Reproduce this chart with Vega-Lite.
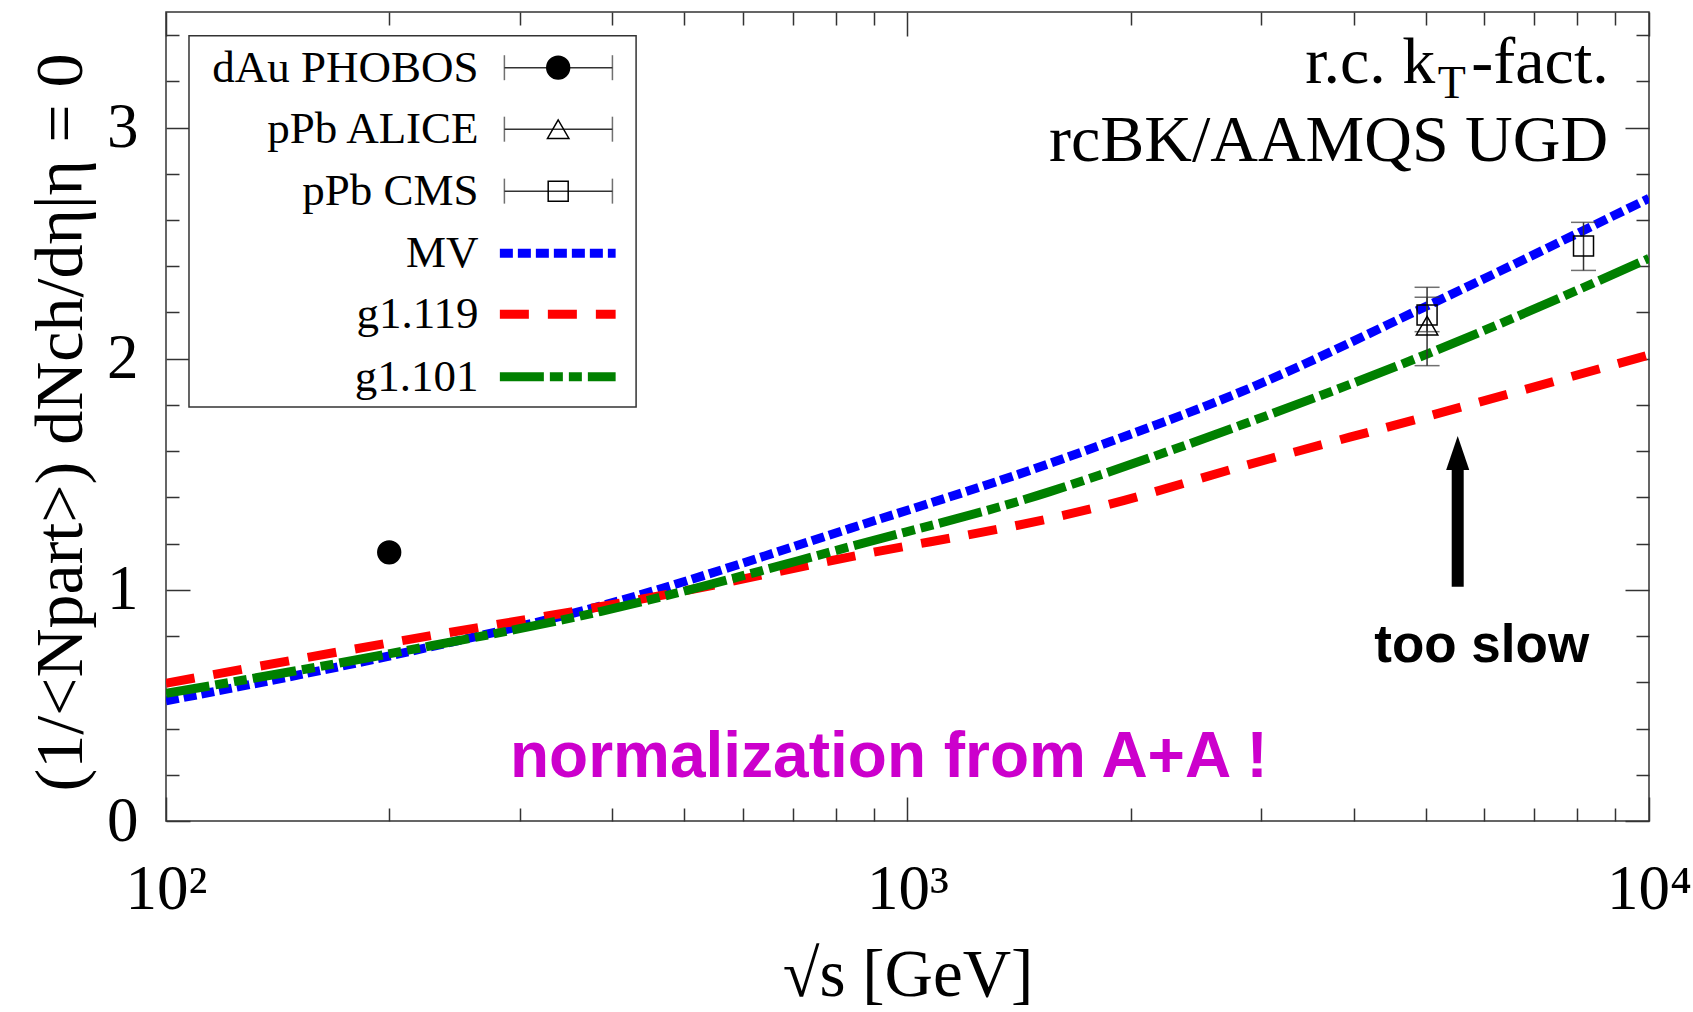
{
  "$schema": "https://vega.github.io/schema/vega-lite/v6.json",
  "width": 1483,
  "height": 809,
  "autosize": {"type": "none"},
  "padding": {"left": 166, "top": 12, "right": 44, "bottom": 191},
  "background": "white",
  "config": {"view": {"stroke": "#333333", "strokeWidth": 1.5}, "font": "Liberation Serif"},
  "datasets": {
    "curves": [
      {"series": "MV", "x": 100, "y": 0.52},
      {"series": "MV", "x": 213, "y": 0.733},
      {"series": "MV", "x": 385, "y": 0.93},
      {"series": "MV", "x": 837, "y": 1.266},
      {"series": "MV", "x": 1556, "y": 1.547},
      {"series": "MV", "x": 1818, "y": 1.625},
      {"series": "MV", "x": 2818, "y": 1.857},
      {"series": "MV", "x": 5108, "y": 2.24},
      {"series": "MV", "x": 10000, "y": 2.694},
      {"series": "g1.119", "x": 100, "y": 0.596},
      {"series": "g1.119", "x": 213, "y": 0.786},
      {"series": "g1.119", "x": 385, "y": 0.927},
      {"series": "g1.119", "x": 464, "y": 0.975},
      {"series": "g1.119", "x": 837, "y": 1.143},
      {"series": "g1.119", "x": 1632, "y": 1.324},
      {"series": "g1.119", "x": 1818, "y": 1.36},
      {"series": "g1.119", "x": 2818, "y": 1.533},
      {"series": "g1.119", "x": 5108, "y": 1.757},
      {"series": "g1.119", "x": 10000, "y": 2.016},
      {"series": "g1.101", "x": 100, "y": 0.552},
      {"series": "g1.101", "x": 213, "y": 0.74},
      {"series": "g1.101", "x": 385, "y": 0.906},
      {"series": "g1.101", "x": 837, "y": 1.187},
      {"series": "g1.101", "x": 1556, "y": 1.425},
      {"series": "g1.101", "x": 1818, "y": 1.497},
      {"series": "g1.101", "x": 2818, "y": 1.713},
      {"series": "g1.101", "x": 5108, "y": 2.03},
      {"series": "g1.101", "x": 10000, "y": 2.434}
    ],
    "points": [
      {"series": "dAu PHOBOS", "x": 200, "y": 1.1625},
      {"series": "pPb ALICE", "x": 5020, "y": 2.143, "lo": 1.97, "hi": 2.309},
      {"series": "pPb CMS", "x": 5020, "y": 2.189, "lo": 2.117, "hi": 2.266},
      {"series": "pPb CMS", "x": 8160, "y": 2.488, "lo": 2.382, "hi": 2.59}
    ],
    "legend": [
      {"series": "dAu PHOBOS", "kind": "data", "ly": 3.259},
      {"series": "pPb ALICE", "kind": "data", "ly": 2.993},
      {"series": "pPb CMS", "kind": "data", "ly": 2.725},
      {"series": "MV", "kind": "model", "ly": 2.456},
      {"series": "g1.119", "kind": "model", "ly": 2.192},
      {"series": "g1.101", "kind": "model", "ly": 1.922}
    ],
    "box": [{"x1": 107.4, "x2": 430.5, "y1": 1.791, "y2": 3.397}]
  },
  "layer": [
    {
      "data": {"name": "curves"},
      "mark": {"type": "line", "strokeWidth": 9, "strokeCap": "butt", "interpolate": "monotone", "clip": true},
      "encoding": {
        "x": {"field": "x", "type": "quantitative", "scale": {"type": "log", "domain": [100, 10000], "nice": false},
          "axis": {"orient": "bottom", "values": [100, 1000, 10000], "tickSize": -24, "labelExpr": "datum.value == 100 ? '10²' : datum.value == 1000 ? '10³' : '10⁴'", "labelFont": "Liberation Serif", "labelFontSize": 63, "labelColor": "#000000", "labelPadding": 111, "labelBaseline": "alphabetic", "labelFlush": false, "labelOverlap": false, "labelBound": false, "title": "√s [GeV]", "titleFont": "Liberation Serif", "titleFontSize": 67, "titleFontWeight": "normal", "titleColor": "#000000", "titleBaseline": "alphabetic", "titleAlign": "center", "titleX": 741.5, "titleY": 174, "domain": false, "grid": false, "tickColor": "#333333", "tickWidth": 1.5}},
        "y": {"field": "y", "type": "quantitative", "scale": {"domain": [0, 3.5], "nice": false, "zero": false},
          "axis": {"orient": "left", "values": [0, 1, 2, 3], "format": "d", "tickSize": -24, "labelFont": "Liberation Serif", "labelFontSize": 63, "labelColor": "#000000", "labelPadding": 52, "labelFlush": false, "labelOverlap": false, "labelBound": false, "title": "(1/<Npart>) dNch/dη|η = 0", "titleFont": "Liberation Serif", "titleFontSize": 68, "titleFontWeight": "normal", "titleColor": "#000000", "titleAngle": 270, "titleBaseline": "alphabetic", "titleAlign": "center", "titleX": -85, "titleY": 410, "domain": false, "grid": false, "tickColor": "#333333", "tickWidth": 1.5}},
        "color": {"field": "series", "type": "nominal", "scale": {"domain": ["MV", "g1.119", "g1.101"], "range": ["#0000ff", "#ff0000", "#008000"]}, "legend": null},
        "strokeDash": {"field": "series", "type": "nominal", "scale": {"domain": ["MV", "g1.119", "g1.101"], "range": [[13, 5], [29, 19], [44, 6, 13, 6, 13, 6]]}, "legend": null}
      }
    },
    {
      "data": {"name": "points"},
      "transform": [{"filter": "isValid(datum.lo)"}],
      "mark": {"type": "rule", "color": "#333333", "strokeWidth": 1.5},
      "encoding": {
        "x": {"field": "x", "type": "quantitative", "scale": {"type": "log", "domain": [100, 10000], "nice": false},
          "axis": {"orient": "bottom", "values": [200, 300, 400, 500, 600, 700, 800, 900, 2000, 3000, 4000, 5000, 6000, 7000, 8000, 9000], "tickSize": -13, "labels": false, "title": null, "domain": false, "grid": false, "tickColor": "#333333", "tickWidth": 1.5}},
        "y": {"field": "lo", "type": "quantitative", "scale": {"domain": [0, 3.5], "nice": false, "zero": false},
          "axis": {"orient": "left", "values": [0.2, 0.4, 0.6, 0.8, 1.2, 1.4, 1.6, 1.8, 2.2, 2.4, 2.6, 2.8, 3.2, 3.4], "tickSize": -13, "labels": false, "title": null, "domain": false, "grid": false, "tickColor": "#333333", "tickWidth": 1.5}},
        "y2": {"field": "hi"}
      }
    },
    {
      "data": {"name": "points"},
      "transform": [{"filter": "isValid(datum.lo)"}],
      "mark": {"type": "tick", "orient": "horizontal", "size": 25, "thickness": 1.5, "color": "#333333"},
      "encoding": {
        "x": {"field": "x", "type": "quantitative", "scale": {"type": "log", "domain": [100, 10000], "nice": false},
          "axis": {"orient": "top", "values": [100, 1000, 10000], "tickSize": -24, "labels": false, "title": null, "domain": false, "grid": false, "tickColor": "#333333", "tickWidth": 1.5}},
        "y": {"field": "lo", "type": "quantitative", "scale": {"domain": [0, 3.5], "nice": false, "zero": false},
          "axis": {"orient": "right", "values": [0, 1, 2, 3], "tickSize": -24, "labels": false, "title": null, "domain": false, "grid": false, "tickColor": "#333333", "tickWidth": 1.5}}
      }
    },
    {
      "data": {"name": "points"},
      "transform": [{"filter": "isValid(datum.hi)"}],
      "mark": {"type": "tick", "orient": "horizontal", "size": 25, "thickness": 1.5, "color": "#333333"},
      "encoding": {
        "x": {"field": "x", "type": "quantitative", "scale": {"type": "log", "domain": [100, 10000], "nice": false},
          "axis": {"orient": "top", "values": [200, 300, 400, 500, 600, 700, 800, 900, 2000, 3000, 4000, 5000, 6000, 7000, 8000, 9000], "tickSize": -13, "labels": false, "title": null, "domain": false, "grid": false, "tickColor": "#333333", "tickWidth": 1.5}},
        "y": {"field": "hi", "type": "quantitative", "scale": {"domain": [0, 3.5], "nice": false, "zero": false},
          "axis": {"orient": "right", "values": [0.2, 0.4, 0.6, 0.8, 1.2, 1.4, 1.6, 1.8, 2.2, 2.4, 2.6, 2.8, 3.2, 3.4], "tickSize": -13, "labels": false, "title": null, "domain": false, "grid": false, "tickColor": "#333333", "tickWidth": 1.5}}
      }
    },
    {
      "data": {"name": "points"},
      "mark": {"type": "point", "stroke": "#000000", "strokeWidth": 1.5, "opacity": 1},
      "encoding": {
        "x": {"field": "x", "type": "quantitative", "axis": null},
        "y": {"field": "y", "type": "quantitative", "axis": null},
        "shape": {"field": "series", "type": "nominal", "scale": {"domain": ["dAu PHOBOS", "pPb ALICE", "pPb CMS"], "range": ["circle", "triangle-up", "square"]}, "legend": null},
        "fill": {"field": "series", "type": "nominal", "scale": {"domain": ["dAu PHOBOS", "pPb ALICE", "pPb CMS"], "range": ["#000000", "transparent", "transparent"]}, "legend": null},
        "size": {"field": "series", "type": "nominal", "scale": {"domain": ["dAu PHOBOS", "pPb ALICE", "pPb CMS"], "range": [520, 400, 320]}, "legend": null}
      }
    },
    {
      "data": {"name": "box"},
      "mark": {"type": "rect", "fill": "white", "stroke": "#333333", "strokeWidth": 1.5},
      "encoding": {
        "x": {"field": "x1", "type": "quantitative", "axis": null},
        "x2": {"field": "x2"},
        "y": {"field": "y1", "type": "quantitative", "axis": null},
        "y2": {"field": "y2"}
      }
    },
    {
      "data": {"name": "legend"},
      "mark": {"type": "text", "align": "right", "baseline": "middle", "font": "Liberation Serif", "fontSize": 45, "color": "#000000"},
      "encoding": {
        "x": {"datum": 264, "type": "quantitative", "axis": null},
        "y": {"field": "ly", "type": "quantitative", "axis": null},
        "text": {"field": "series"}
      }
    },
    {
      "data": {"name": "legend"},
      "transform": [{"filter": "datum.kind == 'data'"}],
      "mark": {"type": "rule", "color": "#333333", "strokeWidth": 1.5},
      "encoding": {
        "x": {"datum": 286, "type": "quantitative", "axis": null},
        "x2": {"datum": 400},
        "y": {"field": "ly", "type": "quantitative", "axis": null}
      }
    },
    {
      "data": {"name": "legend"},
      "transform": [{"filter": "datum.kind == 'data'"}],
      "mark": {"type": "tick", "orient": "vertical", "size": 25, "thickness": 1.5, "color": "#333333"},
      "encoding": {
        "x": {"datum": 286, "type": "quantitative", "axis": null},
        "y": {"field": "ly", "type": "quantitative", "axis": null}
      }
    },
    {
      "data": {"name": "legend"},
      "transform": [{"filter": "datum.kind == 'data'"}],
      "mark": {"type": "tick", "orient": "vertical", "size": 25, "thickness": 1.5, "color": "#333333"},
      "encoding": {
        "x": {"datum": 400, "type": "quantitative", "axis": null},
        "y": {"field": "ly", "type": "quantitative", "axis": null}
      }
    },
    {
      "data": {"name": "legend"},
      "transform": [{"filter": "datum.kind == 'data'"}],
      "mark": {"type": "point", "stroke": "#000000", "strokeWidth": 1.5, "opacity": 1},
      "encoding": {
        "x": {"datum": 338, "type": "quantitative", "axis": null},
        "y": {"field": "ly", "type": "quantitative", "axis": null},
        "shape": {"field": "series", "type": "nominal", "legend": null},
        "fill": {"field": "series", "type": "nominal", "legend": null},
        "size": {"field": "series", "type": "nominal", "legend": null}
      }
    },
    {
      "data": {"name": "legend"},
      "transform": [{"filter": "datum.kind == 'model'"}],
      "mark": {"type": "rule", "strokeWidth": 9, "strokeCap": "butt"},
      "encoding": {
        "x": {"datum": 282, "type": "quantitative", "axis": null},
        "x2": {"datum": 404},
        "y": {"field": "ly", "type": "quantitative", "axis": null},
        "color": {"field": "series", "type": "nominal", "legend": null},
        "strokeDash": {"field": "series", "type": "nominal", "legend": null}
      }
    },
    {
      "data": {"values": [{"a": 1}]},
      "mark": {"type": "rule", "color": "#000000", "strokeWidth": 12, "strokeCap": "butt"},
      "encoding": {
        "x": {"datum": 5521, "type": "quantitative", "axis": null},
        "y": {"datum": 1.0137, "type": "quantitative", "axis": null},
        "y2": {"datum": 1.53}
      }
    },
    {
      "data": {"values": [{"a": 1}]},
      "mark": {"type": "point", "shape": "M0,-1L-0.68,1L0.68,1Z", "size": 1156, "filled": true, "color": "#000000", "opacity": 1},
      "encoding": {
        "x": {"datum": 5521, "type": "quantitative", "axis": null},
        "y": {"datum": 1.592, "type": "quantitative", "axis": null}
      }
    },
    {
      "data": {"values": [{"t": "too slow"}]},
      "mark": {"type": "text", "align": "center", "baseline": "alphabetic", "font": "Liberation Sans", "fontWeight": "bold", "fontSize": 53, "color": "#000000"},
      "encoding": {
        "x": {"datum": 5948, "type": "quantitative", "axis": null},
        "y": {"datum": 0.689, "type": "quantitative", "axis": null},
        "text": {"field": "t"}
      }
    },
    {
      "data": {"values": [{"t": "normalization from A+A !"}]},
      "mark": {"type": "text", "align": "center", "baseline": "alphabetic", "font": "Liberation Sans", "fontWeight": "bold", "fontSize": 64, "color": "#cc00cc"},
      "encoding": {
        "x": {"datum": 944, "type": "quantitative", "axis": null},
        "y": {"datum": 0.189, "type": "quantitative", "axis": null},
        "text": {"field": "t"}
      }
    },
    {
      "data": {"values": [{"t": "r.c. k"}]},
      "mark": {"type": "text", "align": "right", "baseline": "alphabetic", "font": "Liberation Serif", "fontSize": 66, "color": "#000000"},
      "encoding": {
        "x": {"datum": 5150, "type": "quantitative", "axis": null},
        "y": {"datum": 3.192, "type": "quantitative", "axis": null},
        "text": {"field": "t"}
      }
    },
    {
      "data": {"values": [{"t": "T"}]},
      "mark": {"type": "text", "align": "left", "baseline": "alphabetic", "font": "Liberation Serif", "fontSize": 46, "color": "#000000"},
      "encoding": {
        "x": {"datum": 5190, "type": "quantitative", "axis": null},
        "y": {"datum": 3.127, "type": "quantitative", "axis": null},
        "text": {"field": "t"}
      }
    },
    {
      "data": {"values": [{"t": "-fact."}]},
      "mark": {"type": "text", "align": "left", "baseline": "alphabetic", "font": "Liberation Serif", "fontSize": 66, "color": "#000000"},
      "encoding": {
        "x": {"datum": 5760, "type": "quantitative", "axis": null},
        "y": {"datum": 3.192, "type": "quantitative", "axis": null},
        "text": {"field": "t"}
      }
    },
    {
      "data": {"values": [{"t": "rcBK/AAMQS UGD"}]},
      "mark": {"type": "text", "align": "right", "baseline": "alphabetic", "font": "Liberation Serif", "fontSize": 66, "color": "#000000"},
      "encoding": {
        "x": {"datum": 8807, "type": "quantitative", "axis": null},
        "y": {"datum": 2.855, "type": "quantitative", "axis": null},
        "text": {"field": "t"}
      }
    }
  ],
  "resolve": {"axis": {"x": "independent", "y": "independent"}}
}
